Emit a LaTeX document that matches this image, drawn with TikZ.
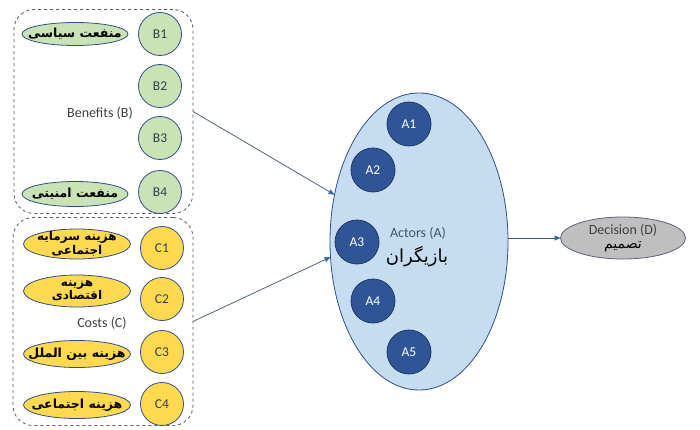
\documentclass[tikz,border=0pt]{standalone}
\usepackage{fontspec}
\setmainfont{Carlito}
\newfontfamily\fafont[Script=Arabic]{DejaVu Sans}
\TeXXeTstate=1
\usetikzlibrary{shapes.geometric,arrows.meta}
\definecolor{bfill}{HTML}{C9E2B6}
\definecolor{cfill}{HTML}{FFD94F}
\definecolor{afill}{HTML}{2F5597}
\definecolor{aline}{HTML}{203864}
\definecolor{actfill}{HTML}{C5DCF1}
\definecolor{ringline}{HTML}{2F4F8A}
\definecolor{decfill}{HTML}{BFBFBF}
\definecolor{decline}{HTML}{5A6478}
\definecolor{boxline}{HTML}{595959}
\definecolor{connline}{HTML}{44546A}
\definecolor{tipblue}{HTML}{2E6DB4}
\definecolor{labtext}{HTML}{333F50}
\newcommand\fatxt[1]{{\fafont\beginR #1\endR}}
\begin{document}
\begin{tikzpicture}[x=1pt,y=-1pt,
  grpbox/.style={draw=boxline, dashed, line width=0.8pt, rounded corners=20pt, inner sep=0pt, outer sep=0pt},
  bcirc/.style={circle, draw=ringline, line width=0.8pt, fill=bfill, minimum size=43pt, inner sep=0pt, text=labtext, font=\fontsize{13.5}{15}\selectfont},
  ccirc/.style={circle, draw=ringline, line width=0.8pt, fill=cfill, minimum size=43pt, inner sep=0pt, text=labtext, font=\fontsize{13.5}{15}\selectfont},
  acirc/.style={circle, draw=aline, line width=0.8pt, fill=afill, minimum size=44pt, inner sep=0pt, text=white, font=\fontsize{13.5}{15}\selectfont},
  bell/.style={ellipse, draw=ringline, line width=0.8pt, fill=bfill, minimum width=106pt, minimum height=23pt, inner sep=0pt},
  cell/.style={ellipse, draw=ringline, line width=0.8pt, fill=cfill, minimum width=107pt, minimum height=27pt, inner sep=0pt},
  fatext/.style={inner sep=0pt, align=center, font=\fontsize{12.5}{13.5}\selectfont\bfseries},
  fatwo/.style={inner sep=0pt, align=center, font=\fontsize{12}{12}\selectfont\bfseries},
  grplabel/.style={text=black!75, font=\fontsize{14}{16}\selectfont},
  conn/.style={draw=connline, line width=0.7pt, -{Triangle[length=6pt,width=5pt,color=tipblue]}}
]
\useasboundingbox[fill=white] (0,0) rectangle (700,430);

% group boxes
\node[grpbox, minimum width=179pt, minimum height=204pt] (bbox) at (103.5,111.5) {};
\node[grpbox, minimum width=180pt, minimum height=208pt] (cbox) at (103,321.5) {};
\node[grplabel] (blab) at (100,113) {Benefits (B)};
\node[grplabel] (clab) at (102,323) {Costs (C)};

% benefits
\node[bcirc] (b1) at (160,34) {B1};
\node[bcirc] (b2) at (160,86) {B2};
\node[bcirc] (b3) at (160,138) {B3};
\node[bcirc] (b4) at (160,192) {B4};
\node[bell] (bl1) at (75,34) {};
\node[fatext] (bt1) at (bl1.center) {\fatxt{منفعت سیاسی}};
\node[bell, minimum height=25pt] (bl4) at (75,194) {};
\node[fatext] (bt4) at (bl4.center) {\fatxt{منفعت امنیتی}};

% costs
\node[ccirc] (c1) at (162,248) {C1};
\node[ccirc] (c2) at (162,299) {C2};
\node[ccirc] (c3) at (162,352) {C3};
\node[ccirc] (c4) at (162,404) {C4};
\node[cell, minimum height=30pt] (cl1) at (77,244) {};
\node[fatwo] (ct1) at (cl1.center) {\fatxt{هزینه سرمایه}\\\fatxt{اجتماعی}};
\node[cell, minimum height=32pt] (cl2) at (77,291) {};
\node[fatwo] (ct2) at (cl2.center) {\fatxt{هزینه}\\\fatxt{اقتصادی}};
\node[cell] (cl3) at (77,354) {};
\node[fatext] (ct3) at (cl3.center) {\fatxt{هزینه بین الملل}};
\node[cell] (cl4) at (77,405) {};
\node[fatext] (ct4) at (cl4.center) {\fatxt{هزینه اجتماعی}};

% actors
\node[ellipse, draw=ringline, line width=0.8pt, fill=actfill, minimum width=178pt, minimum height=297pt, inner sep=0pt, outer sep=0pt] (actors) at (419,241.5) {};
\node[acirc] (a1) at (409,124) {A1};
\node[acirc] (a2) at (373,170) {A2};
\node[acirc] (a3) at (357,242) {A3};
\node[acirc] (a4) at (373,301) {A4};
\node[acirc] (a5) at (409,352) {A5};
\node[text=connline, font=\fontsize{14}{16}\selectfont] (alab) at (418,233) {Actors (A)};
\node[font=\fontsize{18}{20}\selectfont] (afa) at (417,257) {\fatxt{بازیگران}};

% decision
\node[ellipse, draw=decline, line width=0.8pt, fill=decfill, minimum width=125pt, minimum height=42pt, inner sep=0pt, outer sep=0pt] (dec) at (623,238) {};
\node[inner sep=0pt, align=center, text=black!75, font=\fontsize{14}{15}\selectfont] (dectext) at (dec.center) {Decision (D)\\[-1pt]{\color{black}\fontsize{14}{15}\selectfont\fatxt{تصمیم}}};

% connectors
\draw[conn] (bbox.east) -- (actors.151);
\draw[conn] (cbox.east) -- (actors.190);
\draw[conn] (actors.east |- dec.west) -- (dec.west);
\end{tikzpicture}
\end{document}
